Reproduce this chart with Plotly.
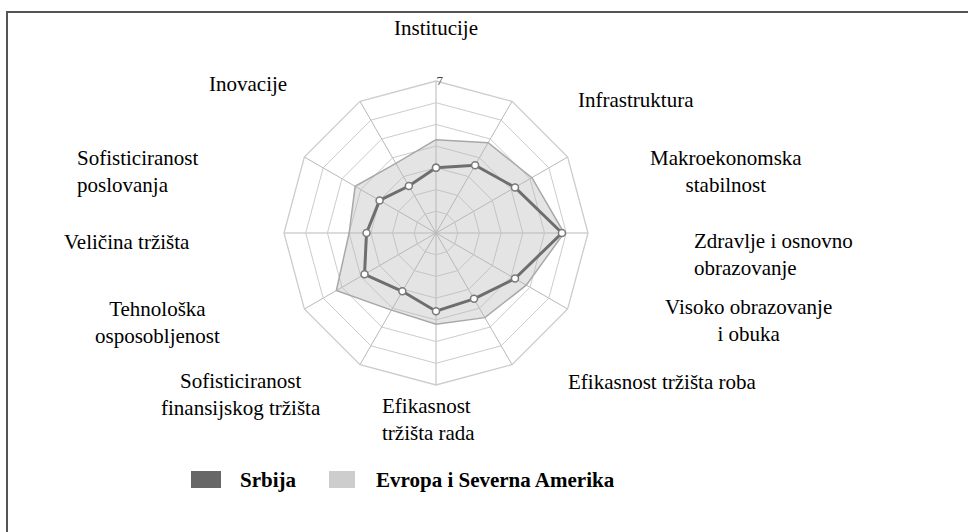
import plotly.graph_objects as go

# categories, clockwise from the top
categories = [
    "Institucije",
    "Infrastruktura",
    "Makroekonomska<br>stabilnost",
    "Zdravlje i osnovno<br>obrazovanje",
    "Visoko obrazovanje<br>i obuka",
    "Efikasnost tržišta roba",
    "Efikasnost<br>tržišta rada",
    "Sofisticiranost<br>finansijskog tržišta",
    "Tehnološka<br>osposobljenost",
    "Veličina tržišta",
    "Sofisticiranost<br>poslovanja",
    "Inovacije",
]
srbija = [3.0, 3.6, 4.2, 5.8, 4.2, 3.5, 3.6, 3.1, 3.8, 3.2, 3.0, 2.5]
evropa = [4.3, 4.8, 5.1, 5.9, 4.8, 4.5, 4.2, 4.1, 5.3, 4.0, 4.3, 3.7]
series_names = ["Srbija", "Evropa i Severna Amerika"]
ring_values = [1, 2, 3, 4, 5, 6, 7]
ring_labels = ["", "", "", "", "", "", "7"]

W, H = 968, 532
FONT = "Liberation Serif, Times New Roman, serif"


def px_x(x):
    return x / W


def px_y(y):
    return 1 - y / H


fig = go.Figure()

# closed polygons
theta = categories + categories[:1]
fig.add_trace(go.Scatterpolar(
    r=evropa + evropa[:1], theta=theta, name=series_names[1],
    mode="lines", fill="toself",
    fillcolor="rgba(185,185,185,0.38)",
    line=dict(color="#a8a8a8", width=1.5),
    showlegend=False,
))
fig.add_trace(go.Scatterpolar(
    r=srbija + srbija[:1], theta=theta, name=series_names[0],
    mode="lines+markers",
    line=dict(color="#6e6e6e", width=3),
    marker=dict(symbol="circle", size=7, color="white",
                line=dict(color="#7a7a7a", width=1.5)),
    showlegend=False,
))

# polar placement (pixels)
cx, cy, R = 436, 233, 152
fig.update_layout(
    width=W, height=H,
    margin=dict(l=0, r=0, t=0, b=0),
    paper_bgcolor="white",
    plot_bgcolor="white",
    font=dict(family=FONT, color="black"),
    polar=dict(
        domain=dict(x=[px_x(cx - R), px_x(cx + R)], y=[px_y(cy + R), px_y(cy - R)]),
        bgcolor="white",
        gridshape="linear",
        radialaxis=dict(
            range=[0, 7], angle=90, tickangle=90,
            tickvals=ring_values, ticktext=ring_labels,
            tickfont=dict(size=13, color="#444"),
            showline=False, ticks="",
            gridcolor="#cccccc", gridwidth=1.3,
        ),
        angularaxis=dict(
            direction="clockwise", rotation=90,
            showticklabels=False, ticks="",
            linecolor="#cccccc", linewidth=1.3,
            gridcolor="#b8b8b8", gridwidth=1.2,
        ),
    ),
)

# category labels, placed like the original
label_pos = [
    (436, 28, "center"),
    (636, 100, "center"),
    (726, 172, "center"),
    (692, 254, "left"),
    (748, 320, "center"),
    (662, 382, "center"),
    (380, 419, "left"),
    (241, 394, "center"),
    (157, 322, "center"),
    (127, 242, "center"),
    (75, 172, "left"),
    (248, 84, "center"),
]
for cat, (x, y, anchor) in zip(categories, label_pos):
    fig.add_annotation(
        x=px_x(x), y=px_y(y), xref="paper", yref="paper",
        text=cat, showarrow=False, xanchor=anchor, yanchor="middle",
        align=anchor, font=dict(size=21, family=FONT, color="black"),
    )

# legend drawn as boxes + bold text
legend_items = [
    (191, 221, "#676767", 238),
    (329, 355, "#cdcdcd", 374),
]
for name, (x0, x1, col, tx) in zip(series_names, legend_items):
    fig.add_shape(type="rect", xref="paper", yref="paper",
                  x0=px_x(x0), x1=px_x(x1), y0=px_y(488), y1=px_y(471),
                  fillcolor=col, line=dict(width=0))
    fig.add_annotation(
        x=px_x(tx), y=px_y(480), xref="paper", yref="paper",
        text="<b>%s</b>" % name, showarrow=False, xanchor="left", yanchor="middle",
        font=dict(size=21, family=FONT, color="black"),
    )

# outer frame
fig.add_shape(type="rect", xref="paper", yref="paper",
              x0=px_x(7), x1=px_x(990), y0=px_y(560), y1=px_y(12),
              line=dict(color="#555555", width=2), fillcolor="rgba(0,0,0,0)")

fig.write_html("out.html", config={"displayModeBar": False},
               post_script="document.body.style.margin='0px';")
